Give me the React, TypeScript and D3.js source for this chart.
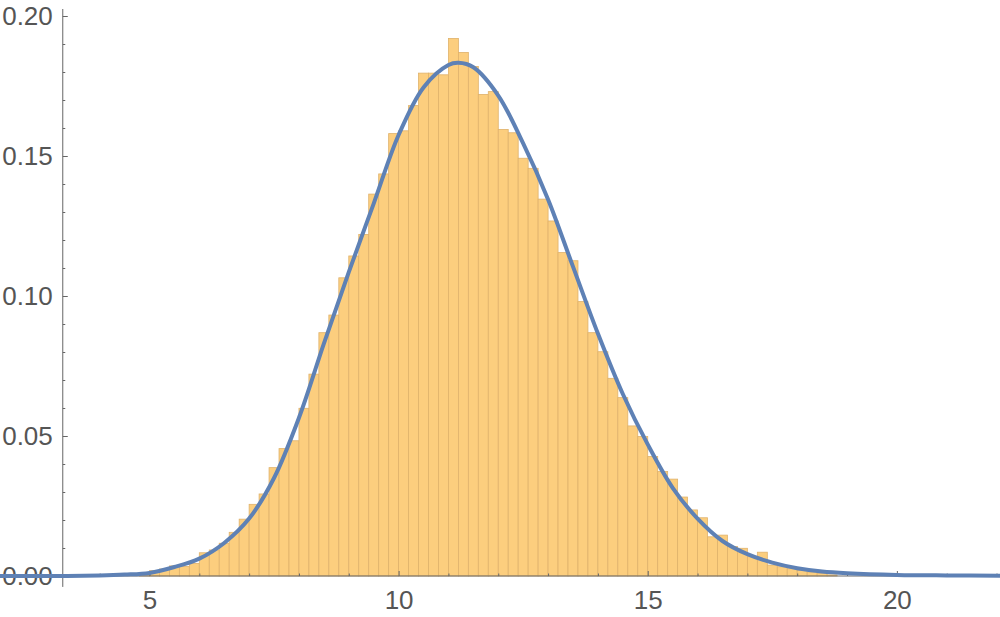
import React, { useEffect, useRef } from 'react';
import * as d3 from 'd3';

// histogram bins: left edge of each 0.2-wide bin and its density
const binStarts = [
  4.8, 5.0, 5.2, 5.4, 5.6, 5.8, 6.0, 6.2, 6.4, 6.6, 6.8, 7.0, 7.2, 7.4, 7.6, 7.8,
  8.0, 8.2, 8.4, 8.6, 8.8, 9.0, 9.2, 9.4, 9.6, 9.8, 10.0, 10.2, 10.4, 10.6, 10.8,
  11.0, 11.2, 11.4, 11.6, 11.8, 12.0, 12.2, 12.4, 12.6, 12.8, 13.0, 13.2, 13.4,
  13.6, 13.8, 14.0, 14.2, 14.4, 14.6, 14.8, 15.0, 15.2, 15.4, 15.6, 15.8, 16.0,
  16.2, 16.4, 16.6, 16.8, 17.0, 17.2, 17.4, 17.6, 17.8, 18.0, 18.2, 18.4, 18.6
];
const binHeights = [
  0.0005, 0.0019, 0.0025, 0.0036, 0.0034, 0.0045, 0.0083, 0.0093, 0.0117, 0.0156,
  0.0203, 0.0256, 0.0293, 0.0387, 0.0455, 0.0483, 0.0599, 0.0721, 0.0869, 0.0932,
  0.1065, 0.1143, 0.122, 0.1364, 0.1436, 0.158, 0.159, 0.168, 0.1796, 0.1796,
  0.179, 0.192, 0.187, 0.182, 0.172, 0.173, 0.1595, 0.1583, 0.1492, 0.1456,
  0.1346, 0.1268, 0.1155, 0.1126, 0.098, 0.0869, 0.0801, 0.0706, 0.0637, 0.0536,
  0.0498, 0.0427, 0.0373, 0.0346, 0.0282, 0.0236, 0.0208, 0.014, 0.0146, 0.0105,
  0.0099, 0.0069, 0.0085, 0.0039, 0.0033, 0.0026, 0.002, 0.0014, 0.0009, 0.0004
];
const binWidth = 0.2;

// density curve
const curveX = [
  2.0, 3.0, 4.0, 4.5, 5.0, 5.5, 6.0, 6.5, 7.0, 7.5, 8.0, 8.5, 9.0, 9.5, 10.0, 10.5,
  11.0, 11.2, 11.5, 12.0, 12.5, 13.0, 13.5, 14.0, 14.5, 15.0, 15.5, 16.0, 16.5,
  17.0, 17.5, 18.0, 18.5, 19.0, 20.0, 21.0, 22.1
];
const curveY = [
  0.0, 0.0, 0.0002, 0.0005, 0.0011, 0.0032, 0.0062, 0.0118, 0.0205, 0.035, 0.0565,
  0.083, 0.1085, 0.133, 0.1575, 0.1745, 0.1825, 0.1833, 0.1817, 0.1716, 0.1545,
  0.1345, 0.1105, 0.0866, 0.065, 0.047, 0.0315, 0.0205, 0.0125, 0.0078, 0.0048,
  0.0028, 0.0016, 0.001, 0.0004, 0.0002, 0.0001
];

const xMajor = [5, 10, 15, 20];
const xMinor = [3, 4, 6, 7, 8, 9, 11, 12, 13, 14, 16, 17, 18, 19, 21, 22];
const yMajor = [0, 0.05, 0.1, 0.15, 0.2];
const yMinor = [0.01, 0.02, 0.03, 0.04, 0.06, 0.07, 0.08, 0.09, 0.11, 0.12, 0.13, 0.14, 0.16, 0.17, 0.18, 0.19];

const W = 1000;
const H = 617;

const App = () => {
  const svgRef = useRef<SVGSVGElement>(null);

  useEffect(() => {
    const svg = d3.select(svgRef.current);
    svg.selectAll('*').remove();

    const x = d3.scaleLinear().domain([2, 22.07]).range([0, W]);
    const y = d3.scaleLinear().domain([0, 0.2]).range([576, 16]);
    const axisX = x(3.26);
    const font = '"Liberation Sans", Arial, sans-serif';

    // bars
    svg.append('g')
      .selectAll('rect')
      .data(binStarts)
      .join('rect')
      .attr('x', d => x(d))
      .attr('width', d => x(d + binWidth) - x(d))
      .attr('y', (d, i) => y(binHeights[i]))
      .attr('height', (d, i) => y(0) - y(binHeights[i]))
      .attr('fill', '#fcce7e')
      .attr('stroke', '#dfb26c')
      .attr('stroke-width', 0.8);

    // y axis
    const yAxisG = svg.append('g').attr('transform', `translate(${axisX},0)`);
    yAxisG.append('g')
      .call(d3.axisLeft(y).tickValues(yMinor).tickSize(-2.5).tickFormat(() => ''))
      .call(g => g.select('.domain').remove());
    yAxisG.append('g')
      .call(d3.axisLeft(y).tickValues(yMajor).tickSize(-5).tickPadding(10).tickFormat(d3.format('.2f')))
      .call(g => g.select('.domain').remove());
    yAxisG.append('line')
      .attr('y1', y(-0.0039))
      .attr('y2', y(0.2025))
      .attr('stroke', '#666');

    // x axis
    const xAxisG = svg.append('g').attr('transform', `translate(0,${y(0)})`);
    xAxisG.append('g')
      .call(d3.axisBottom(x).tickValues(xMinor).tickSize(-2.5).tickFormat(() => ''))
      .call(g => g.select('.domain').remove());
    xAxisG.append('g')
      .call(d3.axisBottom(x).tickValues(xMajor).tickSize(-5).tickPadding(15).tickFormat(d3.format('d')))
      .call(g => g.select('.domain').remove());
    xAxisG.append('line')
      .attr('x1', axisX)
      .attr('x2', W)
      .attr('stroke', '#666');

    svg.selectAll('.tick line').attr('stroke', '#666');
    svg.selectAll('.tick text')
      .attr('fill', '#555')
      .style('font-family', font)
      .style('font-size', '26px');

    // density curve on top
    const pts = curveX.map((v, i) => [v, curveY[i]] as [number, number]);
    const myLine = d3.line<[number, number]>()
      .x(d => x(d[0]))
      .y(d => y(d[1]))
      .curve(d3.curveCatmullRom.alpha(0.5));
    svg.append('path')
      .datum(pts)
      .attr('d', myLine)
      .attr('fill', 'none')
      .attr('stroke', '#5e81b5')
      .attr('stroke-width', 4)
      .attr('stroke-linejoin', 'round');
  }, []);

  return (
    <svg
      ref={svgRef}
      width={W}
      height={H}
      style={{ position: 'absolute', left: 0, top: 0, background: '#fff' }}
    />
  );
};

export default App;
